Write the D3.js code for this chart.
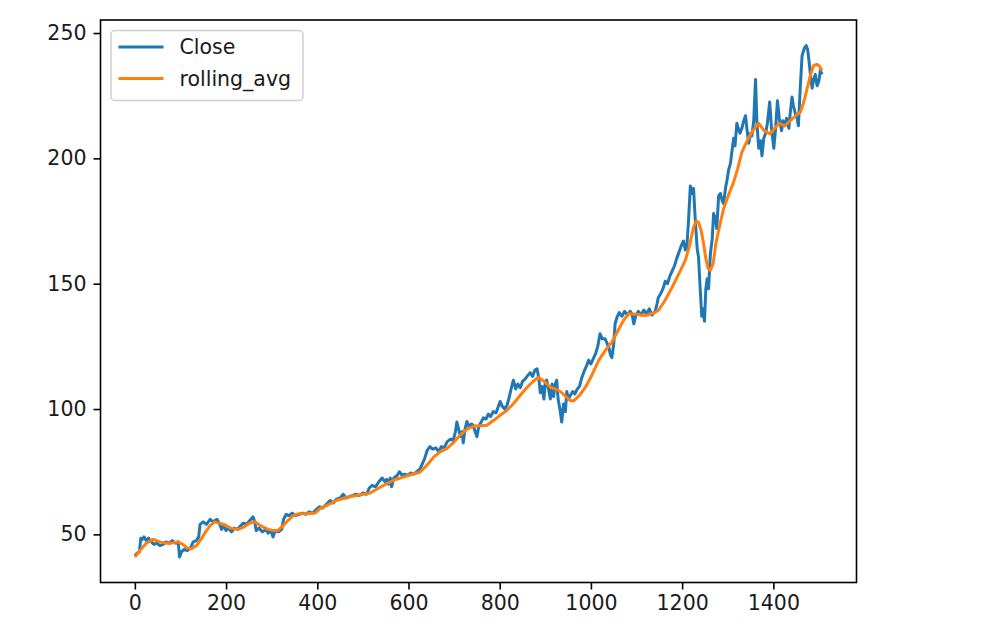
<!DOCTYPE html>
<html>
<head>
<meta charset="utf-8">
<script src="https://cdn.jsdelivr.net/npm/d3@7"></script>
<style>
  body { margin: 0; background: #fff; }
  svg { display: block; }
  .axis text { font-family: "DejaVu Sans", sans-serif; font-size: 20.5px; fill: #1a1a1a; }
  .axis line, .axis path { stroke: #000; stroke-width: 1.6px; }
</style>
</head>
<body>
<div id="chart"></div>
<script>
/* Close price (index, value) */
var closeIdx = [0,5,10,13,16,20,25,30,36,42,48,55,62,68,75,82,90,95,98,102,108,115,122,128,135,140,143,150,157,165,172,180,185,190,195,200,205,212,218,225,232,238,245,252,259,263,266,272,280,288,292,298,303,308,315,322,326,332,338,345,352,360,368,375,382,390,398,405,412,420,428,435,442,450,457,463,470,478,485,492,500,508,514,520,528,535,542,548,552,556,560,563,568,575,580,586,592,598,605,612,618,625,630,635,641,647,653,660,666,672,678,685,692,698,703,706,710,714,718,720,724,728,733,738,742,746,750,754,760,764,770,775,780,786,792,797,801,806,811,816,820,825,830,835,840,845,850,856,862,867,872,877,882,886,889,893,897,900,903,907,911,915,918,922,925,928,932,936,940,944,947,951,955,960,965,970,975,980,985,990,995,1000,1005,1010,1015,1020,1025,1031,1036,1040,1043,1046,1050,1053,1058,1062,1068,1074,1080,1086,1090,1094,1098,1104,1110,1116,1122,1128,1134,1141,1145,1148,1153,1158,1163,1168,1173,1178,1183,1188,1192,1196,1200,1203,1207,1210,1214,1218,1222,1225,1229,1233,1236,1239,1243,1246,1249,1252,1255,1258,1262,1266,1269,1273,1276,1280,1284,1288,1291,1295,1299,1302,1306,1309,1313,1316,1320,1323,1327,1331,1335,1339,1342,1346,1350,1353,1357,1361,1364,1368,1372,1375,1379,1383,1387,1392,1396,1401,1405,1409,1413,1418,1421,1425,1429,1434,1437,1441,1444,1448,1452,1455,1459,1463,1468,1472,1475,1477,1481,1485,1488,1492,1496,1500,1503,1507];
var closeVal = [41.5,42.5,43,48.5,48,49,47.5,48.5,47,46,46.5,45.5,46,47,46.5,47.5,46.5,47,41,43,44,43.5,44.5,47,47.5,49,54,55,54,56,55,56,54.5,52,53.5,51.5,52.5,51,52.5,52,53.5,54.5,54,55.5,57,55,51.5,52.5,51,52,50.5,51.5,49,51.5,51,52,56,58,57.5,58.5,57.5,58,58.5,58,59,58.5,60,61,60.5,62,63.5,62.5,64,64.5,66,64.5,65,65.5,66,65.5,66.5,66,68.5,69.5,69,71,72.5,71,72,70,72.5,69,72.5,73.5,75,73.5,74,73.5,74.5,74,75,76,78,80,83.5,85,84,84.5,83,85,84.5,87,88,87.5,91,94.8,92,89,91,86.5,92,95,93,94,93.5,91,89,93,95,96.5,96,98,97,99,98.5,101,103,101,100,101.5,104,108,111.5,108,110,108.5,111,112,113.5,114.5,113,115.5,116,112,106.5,109,104,111,111.5,108,104,110,105,110,111.5,104,100,94.8,102,99,107,104,105.5,107,106,108,109,112.5,115,117,119.5,118,120,122,125,130,128,128,126,124,121.5,120.5,126,134,137,138.5,137,139,137.5,139,138,134,137,139,137.5,139.5,138,140,137.5,139,142,144.6,146,148,151,150,153,155,157,160,162,164,166,167,163.5,164,175,189,186,188,175,164,160.5,150,137,140,135,148,152,148,162,168,178,176,172,185,186,183,182,188,192,195.5,198,202.5,208,205,214,212,210,212,215,217,212,206,210,209,215,231.5,214,204,207,201,208,210,214,222.5,212,204,212,223,216,211,215,213,216,212,218,224.5,221,218,216,213,228,241,244,245,243.5,241,234,228,231,233.5,229,231,235,233.5];

/* rolling average (index, value) */
var avgIdx = [0,5,13,25,40,55,66,80,94,105,115,124,135,145,155,165,175,185,195,210,226,240,252,263,275,292,305,314,325,336,347,358,375,395,406,420,443,470,495,516,535,552,570,589,608,625,640,655,670,684,698,713,728,742,757,772,787,801,816,830,845,860,873,885,898,911,922,933,945,955,962,975,988,1002,1017,1032,1046,1060,1072,1083,1100,1119,1134,1148,1163,1178,1193,1207,1216,1225,1231,1236,1242,1247,1252,1257,1262,1268,1274,1280,1291,1302,1313,1322,1331,1340,1346,1357,1368,1380,1393,1403,1413,1425,1440,1452,1459,1466,1474,1481,1488,1495,1500,1507];
var avgVal = [41,42,44,46.5,48,47,46.5,46.5,47,46,44.5,44.3,45.5,48,51,53.5,55,54.5,54,52.5,52,53,54.5,55,53.5,52,51.5,51.6,53.5,55.6,57.5,58.2,58.2,58.5,60.3,61.5,63.6,65,65.8,66.5,68.5,70.2,71.8,72.9,74,74.8,77.5,80.8,83,84.2,86.5,89.5,92,93.1,93.3,93.5,95.5,97.5,99.5,102.1,105.5,108.7,111,112.7,111,108.7,108,107,105,103.4,103.2,105.5,108.7,113.5,119.4,123.5,126.7,131.5,135.5,138,137.8,137.3,138,139.3,143.5,148.6,154,159.3,165,172.5,175,174.5,171,166,160,156,155.3,158,166,171.2,180,185.5,190.5,196,202.5,206,208.4,211.5,214,211,209.8,212,214,213,215.5,217.5,218.4,222,227.7,233,237,237.5,237,235];

var xTicks = [0, 200, 400, 600, 800, 1000, 1200, 1400];
var yTicks = [50, 100, 150, 200, 250];
var seriesNames = ["Close", "rolling_avg"];
var seriesColors = ["#1f77b4", "#ff7f0e"];

var W = 1000, H = 643;
var margin = {top: 20, right: 143.5, bottom: 60.5, left: 100.5},
	width = W - margin.left - margin.right,
	height = H - margin.top - margin.bottom;

var closeData = d3.zip(closeIdx, closeVal);
var avgData = d3.zip(avgIdx, avgVal);

/* matplotlib style 5% margins */
var xMin = 0, xMax = d3.max(closeIdx);
var yMin = d3.min(closeVal.concat(avgVal)), yMax = d3.max(closeVal.concat(avgVal));
var xPad = (xMax - xMin) * 0.05, yPad = (yMax - yMin) * 0.05;

var x = d3.scaleLinear().domain([xMin - xPad, xMax + xPad]).range([0, width]);
var y = d3.scaleLinear().domain([yMin - yPad, yMax + yPad]).range([height, 0]);

var svg = d3.select("#chart")
	.append("svg")
	.attr("width", W)
	.attr("height", H);

var g = svg.append("g")
	.attr("transform", "translate(" + margin.left + "," + margin.top + ")");

var line = d3.line()
	.x(function(d) { return x(d[0]); })
	.y(function(d) { return y(d[1]); });

g.append("path")
	.datum(closeData)
	.attr("fill", "none")
	.attr("stroke", seriesColors[0])
	.attr("stroke-width", 3)
	.attr("stroke-linejoin", "round")
	.attr("d", line);

g.append("path")
	.datum(avgData)
	.attr("fill", "none")
	.attr("stroke", seriesColors[1])
	.attr("stroke-width", 3)
	.attr("stroke-linejoin", "round")
	.attr("d", line);

/* axes */
g.append("g")
	.attr("class", "axis")
	.attr("transform", "translate(0," + height + ")")
	.call(d3.axisBottom(x).tickValues(xTicks).tickFormat(d3.format("d")).tickSize(7).tickPadding(6).tickSizeOuter(0))
	.call(function(a) { a.select(".domain").remove(); });

g.append("g")
	.attr("class", "axis")
	.call(d3.axisLeft(y).tickValues(yTicks).tickFormat(d3.format("d")).tickSize(7).tickPadding(7).tickSizeOuter(0))
	.call(function(a) { a.select(".domain").remove(); });

/* frame */
g.append("rect")
	.attr("width", width)
	.attr("height", height)
	.attr("fill", "none")
	.attr("stroke", "#000")
	.attr("stroke-width", 1.6);

/* legend */
var leg = g.append("g").attr("transform", "translate(10.5,10.5)");
leg.append("rect")
	.attr("width", 192)
	.attr("height", 70)
	.attr("rx", 4)
	.attr("fill", "#fff")
	.attr("fill-opacity", 0.8)
	.attr("stroke", "#d0d0d0")
	.attr("stroke-width", 1.5);

var items = leg.selectAll(".item")
	.data(seriesNames)
	.enter()
	.append("g")
	.attr("transform", function(d, i) { return "translate(0," + (16.5 + i * 31.5) + ")"; });

items.append("line")
	.attr("x1", 7.5)
	.attr("x2", 52.5)
	.attr("stroke", function(d, i) { return seriesColors[i]; })
	.attr("stroke-width", 3);

items.append("text")
	.attr("x", 68.5)
	.attr("dy", "0.35em")
	.style("font-family", "DejaVu Sans, sans-serif")
	.style("font-size", "20.5px")
	.style("fill", "#1a1a1a")
	.text(function(d) { return d; });
</script>
</body>
</html>
